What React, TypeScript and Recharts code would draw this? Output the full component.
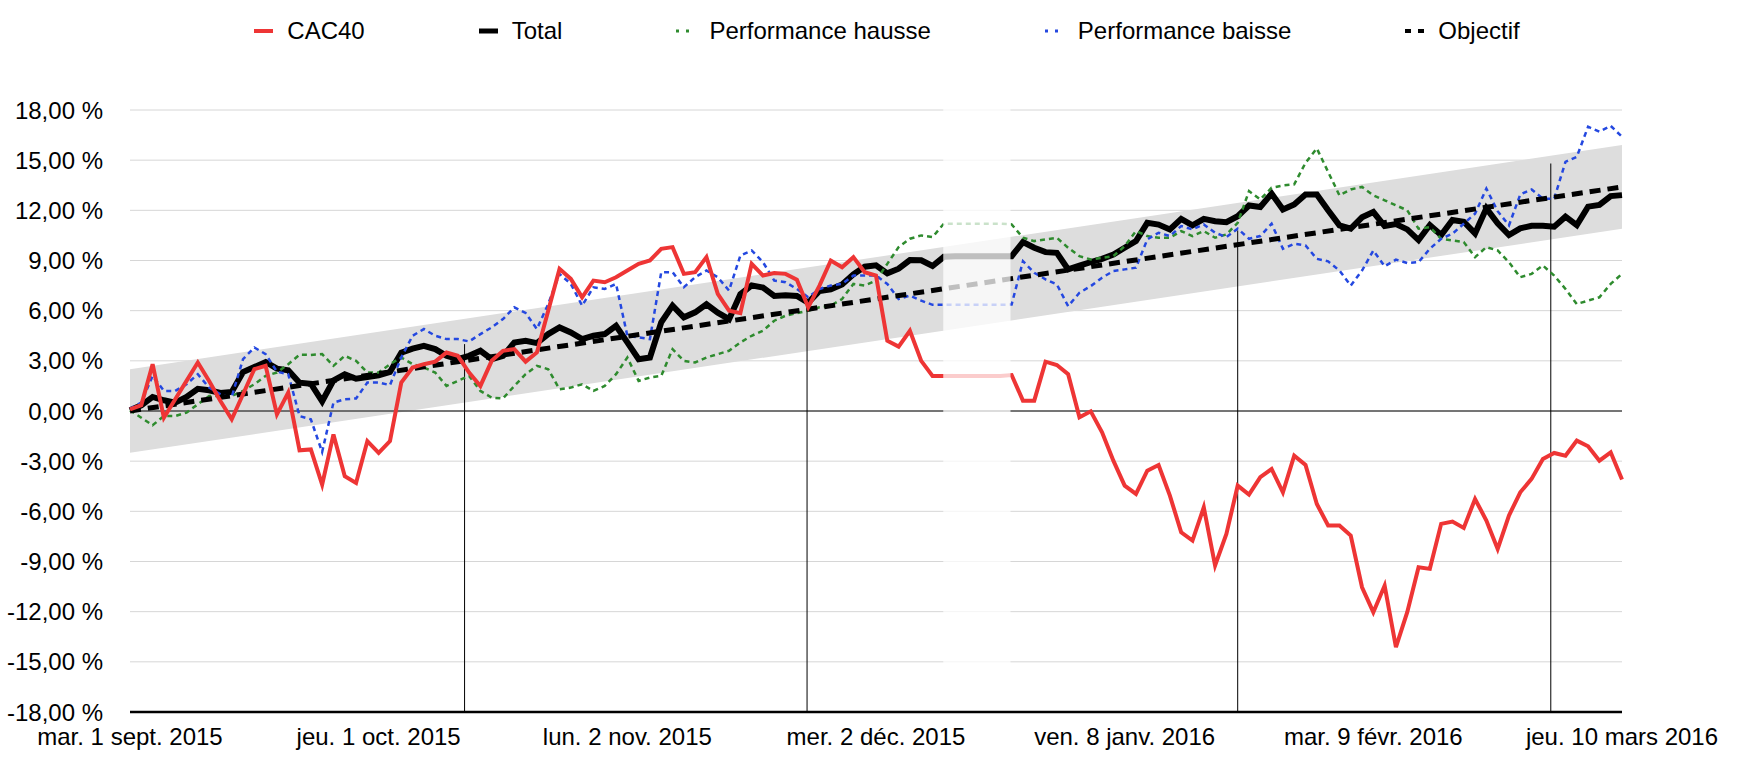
import React from 'react'
import {
  ComposedChart,
  Line,
  Area,
  XAxis,
  YAxis,
  CartesianGrid,
  ReferenceLine,
  ReferenceArea,
  Legend,
} from 'recharts'

const RED = '#EE3535'
const BLACK = '#000000'
const GREEN = '#2E8B2E'
const BLUE = '#2448E0'
const BAND = '#DDDDDD'
const GRID = '#D6D6D6'
const FONT = '"Liberation Sans", Arial, Helvetica, sans-serif'

// x = trading day index, 0 = mar. 1 sept. 2015
const X_TICKS = [0, 22, 44, 66, 88, 110, 132]
const X_LABELS = [
  'mar. 1 sept. 2015',
  'jeu. 1 oct. 2015',
  'lun. 2 nov. 2015',
  'mer. 2 déc. 2015',
  'ven. 8 janv. 2016',
  'mar. 9 févr. 2016',
  'jeu. 10 mars 2016',
]
const Y_TICKS = [-18, -15, -12, -9, -6, -3, 0, 3, 6, 9, 12, 15, 18]

const CAC40 = [
  0.1, 0.35, 2.8, -0.4, 0.7, 1.8, 2.9, 1.8, 0.6, -0.5,
  1.0, 2.5, 2.7, -0.2, 1.1, -2.35, -2.3, -4.4, -1.4, -3.9,
  -4.3, -1.8, -2.5, -1.8, 1.7, 2.6, 2.8, 2.95, 3.5, 3.3,
  2.3, 1.5, 3.0, 3.6, 3.7, 2.95, 3.5, 6.0, 8.5, 7.9,
  6.8, 7.8, 7.7, 8.0, 8.4, 8.8, 9.0, 9.7, 9.8, 8.2,
  8.3, 9.2, 7.0, 6.0, 5.85, 8.8, 8.1, 8.25, 8.2, 7.85,
  6.2, 7.5, 9.0, 8.6, 9.2, 8.3, 8.1, 4.2, 3.85, 4.8,
  3.0, 2.1, 2.1, 2.1, 2.1, 2.1, 2.1, 2.1, 2.15, 0.62,
  0.62, 2.95, 2.75, 2.2, -0.38, -0.02, -1.27, -2.97, -4.46, -4.96,
  -3.57, -3.23, -5.06, -7.25, -7.75, -5.76, -9.24, -7.35, -4.46, -5.0,
  -3.96, -3.47, -4.86, -2.67, -3.23, -5.56, -6.85, -6.85, -7.45, -10.54,
  -12.03, -10.44, -14.12, -12.03, -9.34, -9.44, -6.75, -6.61, -6.99, -5.26,
  -6.55, -8.25, -6.25, -4.86, -4.06, -2.87, -2.51, -2.67, -1.77, -2.11,
  -2.97, -2.47, -4.1,
]

const TOTAL = [
  0.04, 0.34, 0.84, 0.64, 0.5, 0.84, 1.33, 1.24, 1.08, 1.14,
  2.33, 2.63, 2.93, 2.53, 2.43, 1.69, 1.63, 0.58, 1.83, 2.19,
  1.93, 2.03, 2.13, 2.33, 3.49, 3.73, 3.9, 3.7, 3.3, 3.1,
  3.3, 3.6, 3.1, 3.3, 4.1, 4.2, 4.06, 4.6, 5.0, 4.7,
  4.3, 4.5, 4.6, 5.1, 4.1, 3.1, 3.2, 5.3, 6.3, 5.6,
  5.9, 6.38, 5.88, 5.49, 6.98, 7.51, 7.38, 6.88, 6.92, 6.88,
  6.48, 7.18, 7.28, 7.57, 8.17, 8.63, 8.71, 8.23, 8.51, 9.03,
  9.01, 8.67, 9.22, 9.25, 9.25, 9.25, 9.25, 9.25, 9.26, 10.1,
  9.76, 9.5, 9.46, 8.47, 8.7, 8.9, 9.1, 9.36, 9.76, 10.16,
  11.25, 11.15, 10.86, 11.49, 11.1, 11.49, 11.35, 11.29, 11.65, 12.29,
  12.2, 13.0, 12.05, 12.35, 12.95, 12.95, 12.0, 11.1, 10.9, 11.58,
  11.9, 11.06, 11.18, 10.86, 10.22, 11.12, 10.52, 11.42, 11.32, 10.62,
  12.12, 11.22, 10.52, 10.92, 11.08, 11.08, 11.02, 11.62, 11.12, 12.22,
  12.32, 12.85, 12.91,
]

const HAUSSE = [
  0.04, -0.4, -0.85, -0.3, -0.3, -0.1, 0.4, 0.9, 0.9, 0.9,
  1.2, 1.6, 2.1, 2.3, 2.8, 3.37, 3.35, 3.4, 2.7, 3.3,
  3.0, 2.3, 2.3, 2.8, 3.2, 2.8, 2.6, 2.3, 1.5, 1.8,
  2.1, 1.2, 0.8, 0.75, 1.5, 2.2, 2.7, 2.5, 1.3, 1.4,
  1.6, 1.2, 1.5, 2.2, 3.2, 1.8, 2.0, 2.1, 3.7, 3.0,
  2.9, 3.2, 3.4, 3.6, 4.1, 4.5, 4.8, 5.4, 5.7, 5.85,
  6.0, 6.2, 6.3, 6.7, 7.6, 7.5, 7.8, 8.8, 9.8, 10.3,
  10.5, 10.4, 11.2, 11.2, 11.2, 11.2, 11.2, 11.2, 11.16, 10.36,
  10.16, 10.26, 10.36, 9.76, 9.26, 9.06, 9.16, 9.26, 9.86, 10.76,
  10.46, 10.36, 10.36, 10.76, 10.46, 10.76, 10.36, 10.56, 11.25, 13.15,
  12.65, 13.35, 13.49, 13.55, 14.84, 15.7, 14.3, 12.9, 13.25, 13.4,
  12.9, 12.6, 12.3, 12.0, 10.9, 11.0, 10.3, 10.2, 10.1, 9.2,
  9.8, 9.6, 8.9, 8.0, 8.2, 8.7, 8.1, 7.3, 6.4, 6.6,
  6.8, 7.6, 8.2,
]

const BAISSE = [
  0.14, 0.5, 2.1, 1.2, 1.2, 1.6, 2.2, 1.4, 1.0, 0.85,
  3.1, 3.8, 3.4, 2.35, 2.2, -0.3, -0.5, -2.45, 0.5, 0.7,
  0.75, 1.7, 1.7, 1.55, 3.2, 4.5, 4.9, 4.5, 4.3, 4.3,
  4.16, 4.6, 5.0, 5.5, 6.2, 5.86, 4.9, 6.4, 8.2, 7.6,
  6.3, 7.4, 7.3, 7.6, 4.5, 4.4, 4.3, 8.3, 8.3, 7.4,
  8.0, 8.4, 8.0, 7.2, 9.3, 9.6, 8.9, 7.8, 7.7, 7.3,
  6.8, 7.3, 7.5, 7.6, 8.1, 8.1, 8.1, 7.6, 6.7, 6.9,
  6.6, 6.35, 6.35, 6.35, 6.35, 6.35, 6.35, 6.35, 6.37, 8.96,
  8.27, 7.87, 7.57, 6.27, 7.07, 7.47, 7.97, 8.37, 8.47, 8.57,
  10.26, 10.66, 10.46, 11.06, 10.86, 11.16, 10.66, 10.4, 10.9, 10.3,
  10.46, 11.2, 9.7, 10.0, 9.9, 9.1, 8.95, 8.4, 7.5, 8.4,
  9.6, 8.65, 9.05, 8.85, 8.9, 9.7, 10.3, 10.6, 11.2, 11.8,
  13.3, 11.95, 11.1, 12.95, 13.25, 12.7, 12.7, 14.9, 15.2, 17.0,
  16.7, 17.05, 16.4,
]

// objectif line and its tolerance band, given at both ends
const OBJ_X = [0, 132]
const OBJECTIF = [0, 13.4]
const BAND_LOW = [-2.5, 10.9]
const BAND_HIGH = [2.5, 15.9]

// holiday stretch greyed out, and the four drop lines
const GAP = [71.95, 77.9]
const DROP_X = [29.6, 59.9, 98, 125.7]
const DROP_TOP = [4.0, 6.3, 10.8, 14.8]

const rows = CAC40.map((v, i) => ({
  i,
  cac: v,
  total: TOTAL[i],
  hausse: HAUSSE[i],
  baisse: BAISSE[i],
}))
const objRows = OBJ_X.map((x, k) => ({ i: x, obj: OBJECTIF[k] }))
const bandRows = OBJ_X.map((x, k) => ({ i: x, band: [BAND_LOW[k], BAND_HIGH[k]] }))

const fmtPct = (v: number) => `${v.toFixed(2).replace('.', ',')} %`
const fmtDate = (v: number) => X_LABELS[X_TICKS.indexOf(v)] ?? ''

const LEGEND_ITEMS = [
  { name: 'CAC40', color: RED, width: 4, dash: undefined as string | undefined },
  { name: 'Total', color: BLACK, width: 5, dash: undefined },
  { name: 'Performance hausse', color: GREEN, width: 3, dash: '3 7' },
  { name: 'Performance baisse', color: BLUE, width: 3, dash: '3 7' },
  { name: 'Objectif', color: BLACK, width: 4, dash: '6 7' },
]

function LegendContent() {
  return (
    <div
      style={{
        display: 'flex',
        justifyContent: 'center',
        paddingLeft: 32,
        fontFamily: FONT,
        fontSize: 24,
        lineHeight: '28px',
        color: '#000',
      }}
    >
      {LEGEND_ITEMS.map((it, k) => (
        <div key={it.name} style={{ display: 'flex', alignItems: 'center', marginLeft: k ? 114 : 0 }}>
          <svg width={19} height={8} style={{ marginRight: 14 }}>
            <line x1={0} y1={4} x2={19} y2={4} stroke={it.color} strokeWidth={it.width} strokeDasharray={it.dash} />
          </svg>
          <span>{it.name}</span>
        </div>
      ))}
    </div>
  )
}

const tick = { fill: '#000', fontSize: 24, fontFamily: FONT }

export default function App() {
  return (
    <div style={{ position: 'absolute', left: 0, top: 0, width: 1742, height: 768, background: '#fff' }}>
      <ComposedChart
        width={1742}
        height={768}
        data={rows}
        margin={{ top: 110, right: 120, left: 8, bottom: 14 }}
        style={{ fontFamily: FONT }}
      >
        <CartesianGrid vertical={false} stroke={GRID} strokeWidth={1} />
        <XAxis
          dataKey="i"
          type="number"
          domain={[0, 132]}
          ticks={X_TICKS}
          interval={0}
          tickFormatter={fmtDate}
          tick={tick}
          tickLine={false}
          tickSize={6}
          tickMargin={10}
          height={42}
          axisLine={{ stroke: BLACK, strokeWidth: 2.5 }}
        />
        <YAxis
          type="number"
          domain={[-18, 18]}
          ticks={Y_TICKS}
          interval={0}
          tickFormatter={fmtPct}
          tick={tick}
          tickLine={false}
          axisLine={false}
          tickSize={6}
          tickMargin={21}
          width={122}
        />
        <Legend
          verticalAlign="middle"
          align="center"
          layout="horizontal"
          wrapperStyle={{ top: 17, left: 0, width: 1742 }}
          content={LegendContent}
        />
        <Area
          data={bandRows}
          dataKey="band"
          type="linear"
          stroke="none"
          fill={BAND}
          fillOpacity={1}
          isAnimationActive={false}
          activeDot={false}
        />
        <ReferenceLine y={0} stroke={BLACK} strokeWidth={1} />
        {DROP_X.map((x, k) => (
          <ReferenceLine
            key={x}
            segment={[
              { x, y: DROP_TOP[k] },
              { x, y: -18 },
            ]}
            stroke={BLACK}
            strokeWidth={1}
          />
        ))}
        <Line
          dataKey="total"
          stroke={BLACK}
          strokeWidth={6}
          dot={false}
          activeDot={false}
          type="linear"
          isAnimationActive={false}
        />
        <Line
          dataKey="hausse"
          stroke={GREEN}
          strokeWidth={2.5}
          strokeDasharray="5 4"
          dot={false}
          activeDot={false}
          type="linear"
          isAnimationActive={false}
        />
        <Line
          dataKey="baisse"
          stroke={BLUE}
          strokeWidth={2.5}
          strokeDasharray="5 4"
          dot={false}
          activeDot={false}
          type="linear"
          isAnimationActive={false}
        />
        <Line
          data={objRows}
          dataKey="obj"
          stroke={BLACK}
          strokeWidth={5}
          strokeDasharray="11 7"
          dot={false}
          activeDot={false}
          type="linear"
          isAnimationActive={false}
        />
        <Line
          dataKey="cac"
          stroke={RED}
          strokeWidth={4}
          dot={false}
          activeDot={false}
          type="linear"
          isAnimationActive={false}
        />
        <ReferenceArea
          x1={GAP[0]}
          x2={GAP[1]}
          y1={-18.15}
          y2={18.2}
          ifOverflow="visible"
          fill="#FFFFFF"
          fillOpacity={0.75}
          stroke="none"
          {...({ zIndex: 450 } as any)}
        />
      </ComposedChart>
    </div>
  )
}
